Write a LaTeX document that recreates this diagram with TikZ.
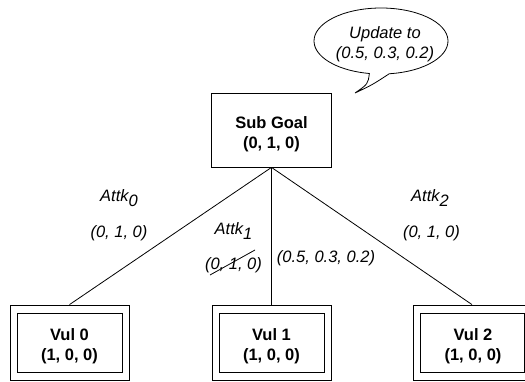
\documentclass[tikz,border=0pt]{standalone}
\usepackage{fontspec}
\setmainfont{Liberation Sans}
\begin{document}
\begin{tikzpicture}[x=1pt,y=1pt,
  edge/.style={line width=0.8pt},
  box/.style={draw, line width=0.8pt, minimum width=120pt, minimum height=74pt, inner sep=0pt},
  boxtext/.style={align=center, inner sep=0pt, font=\bfseries\fontsize{16.5}{20}\selectfont},
  vulbox/.style={draw, line width=0.8pt, minimum width=119pt, minimum height=75.5pt, inner sep=0pt,
    path picture={\draw[line width=0.8pt] ([shift={(7pt,8.5pt)}]path picture bounding box.south west) rectangle ([shift={(-7pt,-8pt)}]path picture bounding box.north east);}},
  lbl/.style={inner sep=0pt, font=\itshape\fontsize{16.5}{20}\selectfont}]
\useasboundingbox (0,0) rectangle (525,381);

% main nodes
\node[box] (sg) at (271.5,251) {};
\node[boxtext] (sgt) at ([yshift=-4pt]sg.center) {Sub Goal\\(0, 1, 0)};
\node[vulbox] (v0) at (69.5,38.25) {};
\node[vulbox] (v1) at (271.5,38.25) {};
\node[vulbox, minimum width=118pt] (v2) at (472,38.25) {};
\node[boxtext] (v0t) at ([yshift=-3pt]v0.center) {Vul 0\\(1, 0, 0)};
\node[boxtext] (v1t) at ([yshift=-3pt]v1.center) {Vul 1\\(1, 0, 0)};
\node[boxtext] (v2t) at ([yshift=-3pt,xshift=1pt]v2.center) {Vul 2\\(1, 0, 0)};

% connectors
\draw[edge] (sg.south) -- (v0.north);
\draw[edge] (sg.south) -- (v1.north);
\draw[edge] (sg.south) -- (v2.north);

% edge labels
\node[lbl, anchor=base] (a0) at (119,180) {Attk\raisebox{-5pt}{0}};
\node[lbl, anchor=base] (t0) at (119,144) {(0, 1, 0)};
\node[lbl, anchor=base] (a1) at (233.5,147) {Attk\raisebox{-5pt}{1}};
\node[lbl, anchor=base] (t1) at (233.5,112) {(0, 1, 0)};
\draw[edge] ([shift={(-23.5pt,-6pt)}]t1.base) -- ([shift={(21.5pt,19pt)}]t1.base);
\node[lbl, anchor=base] (t1n) at (326,119) {(0.5, 0.3, 0.2)};
\node[lbl, anchor=base] (a2) at (430,180) {Attk\raisebox{-5pt}{2}};
\node[lbl, anchor=base] (t2) at (431.5,144) {(0, 1, 0)};

% callout
\coordinate (tip) at (355,288);
\draw[edge] (381,340) ++(277:67pt and 33pt)
  arc[start angle=277, end angle=620, x radius=67pt, y radius=33pt]
  .. controls (368,297) .. (tip)
  .. controls (372,296) .. (389.2,307.2);
\node[lbl, align=center] (upd) at (385,337) {Update to\\(0.5, 0.3, 0.2)};
\end{tikzpicture}
\end{document}
